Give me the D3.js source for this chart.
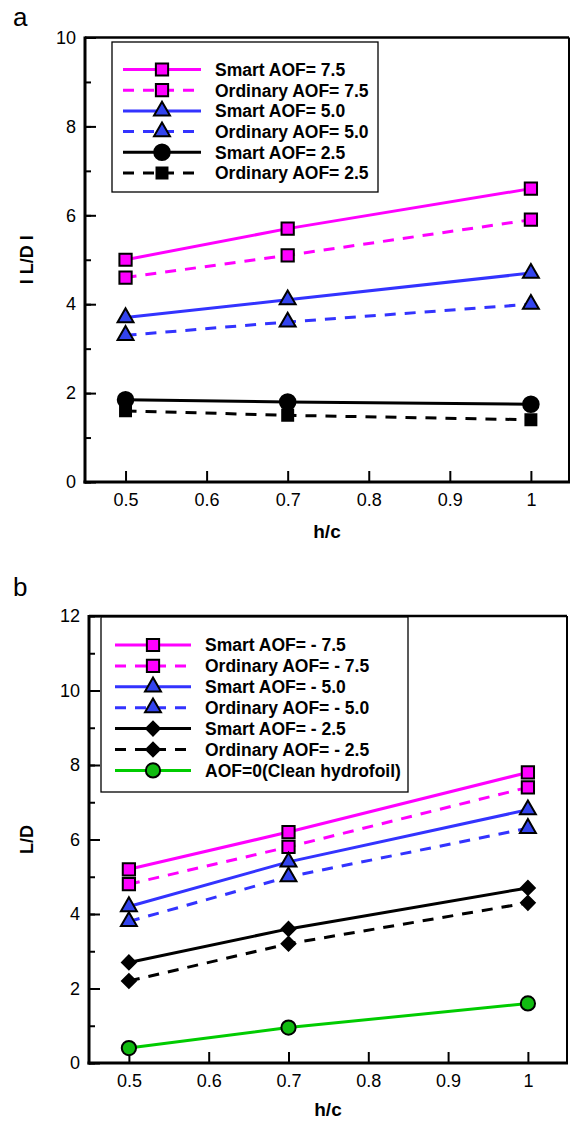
<!DOCTYPE html>
<html>
<head>
<meta charset="utf-8">
<script src="https://cdn.jsdelivr.net/npm/d3@7"></script>
<style>
  html, body { margin: 0; padding: 0; background: #fff; }
  svg { display: block; font-family: "Liberation Sans", Arial, sans-serif; }
</style>
</head>
<body>
<svg id="chart" width="571" height="1121"></svg>
<script>
// h/c positions shared by both panels
const hc = [0.5, 0.7, 1.0];
const xTicks = [0.5, 0.6, 0.7, 0.8, 0.9, 1.0];

// Panel a: |L/D| for positive AOF
const aLabels = ["Smart AOF= 7.5", "Ordinary AOF= 7.5", "Smart AOF= 5.0",
                 "Ordinary AOF= 5.0", "Smart AOF= 2.5", "Ordinary AOF= 2.5"];
const aSmart75 = [5.0, 5.7, 6.6];
const aOrd75   = [4.6, 5.1, 5.9];
const aSmart50 = [3.7, 4.1, 4.7];
const aOrd50   = [3.3, 3.6, 4.0];
const aSmart25 = [1.85, 1.8, 1.75];
const aOrd25   = [1.6, 1.5, 1.4];
const aYTicks = [0, 2, 4, 6, 8, 10];

// Panel b: L/D for negative AOF and the clean hydrofoil
const bLabels = ["Smart AOF= - 7.5", "Ordinary AOF= - 7.5", "Smart AOF= - 5.0",
                 "Ordinary AOF= - 5.0", "Smart AOF= - 2.5", "Ordinary AOF= - 2.5",
                 "AOF=0(Clean hydrofoil)"];
const bSmart75 = [5.2, 6.2, 7.8];
const bOrd75   = [4.8, 5.8, 7.4];
const bSmart50 = [4.2, 5.4, 6.8];
const bOrd50   = [3.8, 5.0, 6.3];
const bSmart25 = [2.7, 3.6, 4.7];
const bOrd25   = [2.2, 3.2, 4.3];
const bClean   = [0.4, 0.95, 1.6];
const bYTicks = [0, 2, 4, 6, 8, 10, 12];

const MAGENTA = "#ff00ff", BLUE = "#3333ff", TRI_FILL = "#3344ee",
      BLACK = "#000", GREEN = "#00cc00", GREEN_FILL = "#11bb11";
const DASH = "11,9";

const style = {
  square:   { type: d3.symbolSquare,   size: 150, rot: 0 },
  triangle: { type: d3.symbolTriangle, size: 110, rot: 0 },
  circle:   { type: d3.symbolCircle,   size: 190, rot: 0 },
  bsquare:  { type: d3.symbolSquare,   size: 120, rot: 0 },
  diamond:  { type: d3.symbolSquare,   size: 95,  rot: 45 },
  gcircle:  { type: d3.symbolCircle,   size: 160, rot: 0 }
};

const aSeries = [
  { name: aLabels[0], values: aSmart75, color: MAGENTA, fill: MAGENTA, dash: null, mk: "square" },
  { name: aLabels[1], values: aOrd75,   color: MAGENTA, fill: MAGENTA, dash: DASH, mk: "square" },
  { name: aLabels[2], values: aSmart50, color: BLUE,    fill: TRI_FILL, dash: null, mk: "triangle" },
  { name: aLabels[3], values: aOrd50,   color: BLUE,    fill: TRI_FILL, dash: DASH, mk: "triangle" },
  { name: aLabels[4], values: aSmart25, color: BLACK,   fill: BLACK,   dash: null, mk: "circle" },
  { name: aLabels[5], values: aOrd25,   color: BLACK,   fill: BLACK,   dash: DASH, mk: "bsquare" }
];
const bSeries = [
  { name: bLabels[0], values: bSmart75, color: MAGENTA, fill: MAGENTA, dash: null, mk: "square" },
  { name: bLabels[1], values: bOrd75,   color: MAGENTA, fill: MAGENTA, dash: DASH, mk: "square" },
  { name: bLabels[2], values: bSmart50, color: BLUE,    fill: TRI_FILL, dash: null, mk: "triangle" },
  { name: bLabels[3], values: bOrd50,   color: BLUE,    fill: TRI_FILL, dash: DASH, mk: "triangle" },
  { name: bLabels[4], values: bSmart25, color: BLACK,   fill: BLACK,   dash: null, mk: "diamond" },
  { name: bLabels[5], values: bOrd25,   color: BLACK,   fill: BLACK,   dash: DASH, mk: "diamond" },
  { name: bLabels[6], values: bClean,   color: GREEN,   fill: GREEN_FILL, dash: null, mk: "gcircle" }
];

const svg = d3.select("#chart");

function marker(g, mk, fill, cx, cy) {
  const s = style[mk];
  g.append("path")
    .attr("d", d3.symbol().type(s.type).size(s.size)())
    .attr("transform", `translate(${cx},${cy}) rotate(${s.rot})`)
    .attr("fill", fill)
    .attr("stroke", "#000")
    .attr("stroke-width", 2);
}

function panel(cfg) {
  const g = svg.append("g");
  const x = d3.scaleLinear().domain(cfg.xDomain).range([cfg.left, cfg.right]);
  const y = d3.scaleLinear().domain(cfg.yDomain).range([cfg.bottom, cfg.top]);

  // panel letter
  g.append("text").attr("x", cfg.letterX).attr("y", cfg.letterY)
    .attr("font-size", 26).text(cfg.letter);

  // minor y ticks (every unit)
  const minor = d3.range(cfg.yDomain[0], cfg.yDomain[1] + 1, 1);
  g.append("g").attr("transform", `translate(${cfg.left},0)`)
    .call(d3.axisLeft(y).tickValues(minor).tickSize(-6).tickFormat(""))
    .call(a => a.select(".domain").remove())
    .call(a => a.selectAll("line").attr("stroke-width", 2));

  // major y ticks with labels
  g.append("g").attr("transform", `translate(${cfg.left},0)`)
    .call(d3.axisLeft(y).tickValues(cfg.yTicks).tickSize(-11).tickPadding(9).tickFormat(d3.format("d")))
    .call(a => a.select(".domain").remove())
    .call(a => a.selectAll("line").attr("stroke-width", 2))
    .call(a => a.selectAll("text").attr("font-size", 18).attr("font-family", "Liberation Sans, Arial, sans-serif").attr("fill", "#000"));

  // x ticks with labels
  g.append("g").attr("transform", `translate(0,${cfg.bottom})`)
    .call(d3.axisBottom(x).tickValues(xTicks).tickSize(-11).tickPadding(11).tickFormat(d3.format("~g")))
    .call(a => a.select(".domain").remove())
    .call(a => a.selectAll("line").attr("stroke-width", 2))
    .call(a => a.selectAll("text").attr("font-size", 18).attr("font-family", "Liberation Sans, Arial, sans-serif").attr("fill", "#000"));

  // frame: heavier left/bottom axes, thinner top/right
  g.append("line").attr("x1", cfg.left).attr("x2", cfg.right).attr("y1", cfg.top).attr("y2", cfg.top)
    .attr("stroke", "#000").attr("stroke-width", 2.5);
  g.append("line").attr("x1", cfg.right).attr("x2", cfg.right).attr("y1", cfg.top).attr("y2", cfg.bottom)
    .attr("stroke", "#000").attr("stroke-width", 2);
  g.append("line").attr("x1", cfg.left).attr("x2", cfg.left).attr("y1", cfg.top - 1).attr("y2", cfg.bottom + 1.5)
    .attr("stroke", "#000").attr("stroke-width", 3);
  g.append("line").attr("x1", cfg.left - 1.5).attr("x2", cfg.right + 1).attr("y1", cfg.bottom).attr("y2", cfg.bottom)
    .attr("stroke", "#000").attr("stroke-width", 3);

  // axis titles
  g.append("text").attr("x", (cfg.left + cfg.right) / 2).attr("y", cfg.xTitleY)
    .attr("text-anchor", "middle").attr("font-size", 19).attr("font-weight", "bold").text("h/c");
  g.append("text")
    .attr("transform", `translate(${cfg.yTitleX},${(cfg.top + cfg.bottom) / 2}) rotate(-90)`)
    .attr("text-anchor", "middle").attr("font-size", 18).attr("font-weight", "bold").text(cfg.yTitle);

  // series lines
  const line = d3.line().x((d, i) => x(hc[i])).y(d => y(d));
  cfg.series.forEach(s => {
    g.append("path").datum(s.values)
      .attr("d", line).attr("fill", "none")
      .attr("stroke", s.color).attr("stroke-width", 3)
      .attr("stroke-dasharray", s.dash);
  });
  // markers drawn on top
  cfg.series.forEach(s => {
    s.values.forEach((v, i) => marker(g, s.mk, s.fill, x(hc[i]), y(v)));
  });

  // legend
  const L = cfg.legend;
  g.append("rect").attr("x", L.x).attr("y", L.y).attr("width", L.w).attr("height", L.h)
    .attr("fill", "#fff").attr("stroke", "#000").attr("stroke-width", 1.3);
  cfg.series.forEach((s, i) => {
    const ry = L.row0 + i * L.dy;
    g.append("line").attr("x1", L.lx1).attr("x2", L.lx2).attr("y1", ry).attr("y2", ry)
      .attr("stroke", s.color).attr("stroke-width", 3)
      .attr("stroke-dasharray", s.dash);
    marker(g, s.mk, s.fill, (L.lx1 + L.lx2) / 2, ry);
    g.append("text").attr("x", L.tx).attr("y", ry).attr("dy", "0.36em")
      .attr("font-size", 17.5).attr("font-weight", "bold").text(s.name);
  });
}

panel({
  letter: "a", letterX: 13, letterY: 26,
  left: 85, right: 569, top: 37.5, bottom: 482,
  xDomain: [0.45, 1.047], yDomain: [0, 10], yTicks: aYTicks,
  xTitleY: 538, yTitleX: 33, yTitle: "I L/D I",
  series: aSeries,
  legend: { x: 112, y: 42, w: 266, h: 150, row0: 69.5, dy: 20.7, lx1: 123, lx2: 201, tx: 215 }
});

panel({
  letter: "b", letterX: 13, letterY: 596,
  left: 89, right: 567, top: 616, bottom: 1063,
  xDomain: [0.45, 1.049], yDomain: [0, 12], yTicks: bYTicks,
  xTitleY: 1116, yTitleX: 33, yTitle: "L/D",
  series: bSeries,
  legend: { x: 101, y: 617, w: 307, h: 175, row0: 645, dy: 20.9, lx1: 115, lx2: 191, tx: 205 }
});
</script>
</body>
</html>
